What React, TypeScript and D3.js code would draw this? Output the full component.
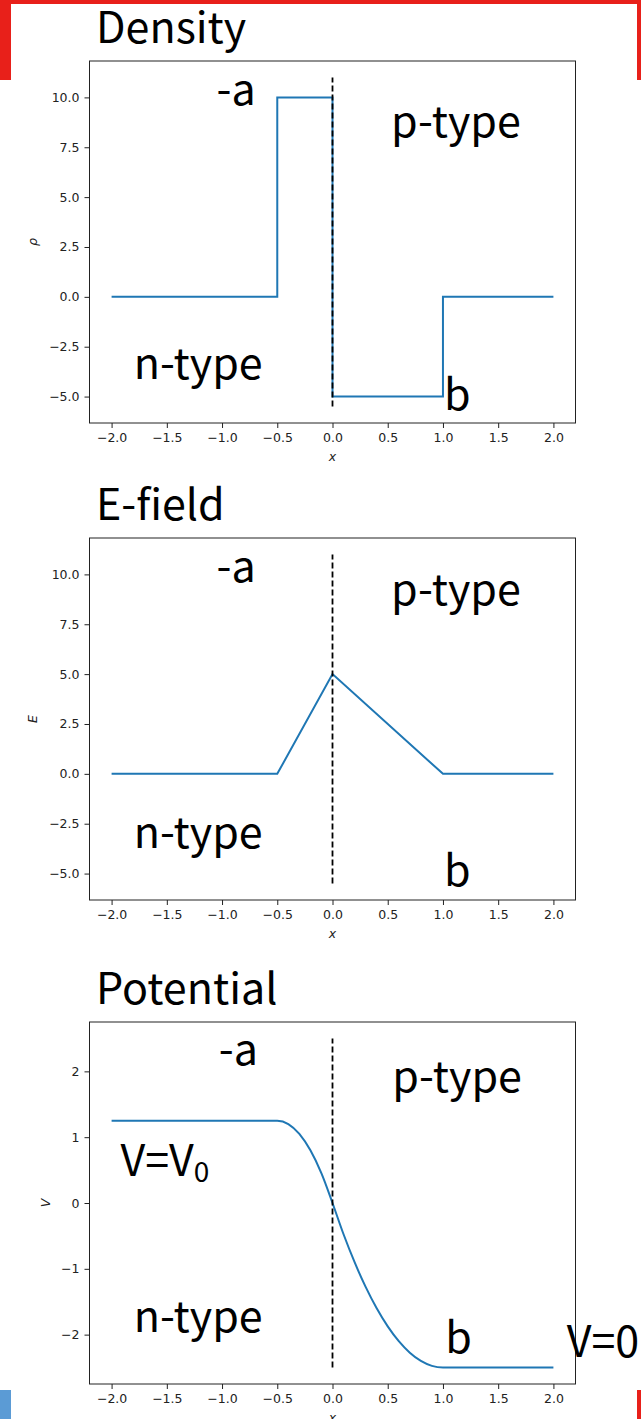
import React, { useRef, useEffect } from "react";
import * as d3 from "d3";

// shared x axis
const xTicks = [-2, -1.5, -1, -0.5, 0, 0.5, 1, 1.5, 2];

// charge density (step profile)
const rhoX = [-2, -0.5, -0.5, 0, 0, 1, 1, 2];
const rhoY = [0, 0, 10, 10, -5, -5, 0, 0];
const rhoTicks = [-5, -2.5, 0, 2.5, 5, 7.5, 10];

// electric field
const eX = [-2, -0.5, 0, 1, 2];
const eY = [0, 0, 5, 0, 0];

// potential
const vX = [-2, -0.5, -0.4, -0.3, -0.2, -0.1, 0, 0.1, 0.2, 0.3, 0.4, 0.5, 0.6, 0.7, 0.8, 0.9, 1, 2];
const vY = [1.25, 1.25, 1.2, 1.05, 0.8, 0.45, 0, -0.475, -0.9, -1.275, -1.6, -1.875, -2.1, -2.275, -2.4, -2.475, -2.5, -2.5];
const vTicks = [-2, -1, 0, 1, 2];

// dashed junction line extents
const junctionRho = [-5.5, 11];
const junctionV = [-2.5, 2.5];

// annotations
const notesRho = [
  { x: -1.05, y: 9.6, t: "-a" },
  { x: 0.53, y: 8.0, t: "p-type" },
  { x: -1.8, y: -4.1, t: "n-type" },
  { x: 1.01, y: -5.67, t: "b" },
];
const notesE = [
  { x: -1.05, y: 9.6, t: "-a" },
  { x: 0.53, y: 8.45, t: "p-type" },
  { x: -1.8, y: -3.7, t: "n-type" },
  { x: 1.01, y: -5.62, t: "b" },
];
const notesV = [
  { x: -1.03, y: 2.1, t: "-a" },
  { x: 0.54, y: 1.69, t: "p-type" },
  { x: -1.92, y: 0.41, t: "V=V", sub: "0" },
  { x: -1.8, y: -1.96, t: "n-type" },
  { x: 1.02, y: -2.28, t: "b" },
  { x: 2.12, y: -2.34, t: "V=0" },
];

const LEFT = 89.5;
const RIGHT = 575.5;
const H = 362;
const ANNOT_FONT = "'Noto Sans CJK JP', 'Noto Sans', sans-serif";
const TICK_FONT = "'DejaVu Sans', sans-serif";

function Panel(props) {
  const { top, title, ylabel, ylabelX, xs, ys, yDomain, yTicks, yFmt, junction, notes, smooth } = props;
  const xRef = useRef(null);
  const yRef = useRef(null);

  const x = d3.scaleLinear().domain([-2.2, 2.2]).range([LEFT, RIGHT]);
  const y = d3.scaleLinear().domain(yDomain).range([top + H, top]);

  useEffect(() => {
    const xaxis = d3.axisBottom(x).tickValues(xTicks).tickFormat(d3.format(".1f")).tickSize(5).tickPadding(5);
    const gx = d3.select(xRef.current).call(xaxis);
    gx.select(".domain").remove();
    gx.selectAll("line").attr("stroke", "#222");
    gx.selectAll("text").attr("font-size", 12.5).attr("font-family", TICK_FONT).attr("fill", "#222");

    const yaxis = d3.axisLeft(y).tickValues(yTicks).tickFormat(d3.format(yFmt)).tickSize(5).tickPadding(5);
    const gy = d3.select(yRef.current).call(yaxis);
    gy.select(".domain").remove();
    gy.selectAll("line").attr("stroke", "#222");
    gy.selectAll("text").attr("font-size", 12.5).attr("font-family", TICK_FONT).attr("fill", "#222");
  }, []);

  const line = d3.line().x((d) => x(d[0])).y((d) => y(d[1]));
  if (smooth) line.curve(d3.curveMonotoneX);
  const pts = xs.map((v, i) => [v, ys[i]]);

  return (
    <g>
      <text x={96} y={top - 18} fontSize={43} fontFamily={ANNOT_FONT} fill="#000">{title}</text>
      <rect x={LEFT} y={top} width={RIGHT - LEFT} height={H} fill="#fff" stroke="#222" strokeWidth={1} />
      <path d={line(pts)} fill="none" stroke="#1f77b4" strokeWidth={2} />
      <line x1={x(0)} x2={x(0)} y1={y(junction[0])} y2={y(junction[1])} stroke="#000" strokeWidth={1.8} strokeDasharray="6,3" />
      {notes.map((n, i) => (
        <text key={i} x={x(n.x)} y={y(n.y)} fontSize={43} fontFamily={ANNOT_FONT} fill="#000">
          {n.t}
          {n.sub ? <tspan fontSize={28} dy={6}>{n.sub}</tspan> : null}
        </text>
      ))}
      <g ref={xRef} transform={`translate(0,${top + H})`} />
      <g ref={yRef} transform={`translate(${LEFT},0)`} />
      <text x={(LEFT + RIGHT) / 2} y={top + H + 38} textAnchor="middle" fontSize={12.5} fontStyle="italic" fontFamily={TICK_FONT} fill="#222">x</text>
      <text transform={`translate(${ylabelX},${top + H / 2}) rotate(-90)`} textAnchor="middle" fontSize={12.5} fontStyle="italic" fontFamily={TICK_FONT} fill="#222">{ylabel}</text>
    </g>
  );
}

export default function App() {
  return (
    <div style={{ position: "absolute", left: 0, top: 0 }}>
      <svg width={641} height={1419} style={{ display: "block", background: "#fff" }}>
        <rect x={0} y={0} width={641} height={4} fill="#e8201a" />
        <rect x={0} y={0} width={11} height={80} fill="#e8201a" />
        <rect x={637} y={0} width={4} height={80} fill="#e8201a" />
        <Panel top={61} title="Density" ylabel="ρ" ylabelX={37} xs={rhoX} ys={rhoY}
          yDomain={[-6.325, 11.825]} yTicks={rhoTicks} yFmt=".1f" junction={junctionRho} notes={notesRho} />
        <Panel top={538} title="E-field" ylabel="E" ylabelX={37} xs={eX} ys={eY}
          yDomain={[-6.325, 11.825]} yTicks={rhoTicks} yFmt=".1f" junction={junctionRho} notes={notesE} />
        <Panel top={1022} title="Potential" ylabel="V" ylabelX={50} xs={vX} ys={vY} smooth
          yDomain={[-2.75, 2.75]} yTicks={vTicks} yFmt="d" junction={junctionV} notes={notesV} />
        <rect x={0} y={1390} width={11} height={29} fill="#5b9bd5" />
        <rect x={637} y={1390} width={4} height={29} fill="#e8201a" />
      </svg>
    </div>
  );
}
